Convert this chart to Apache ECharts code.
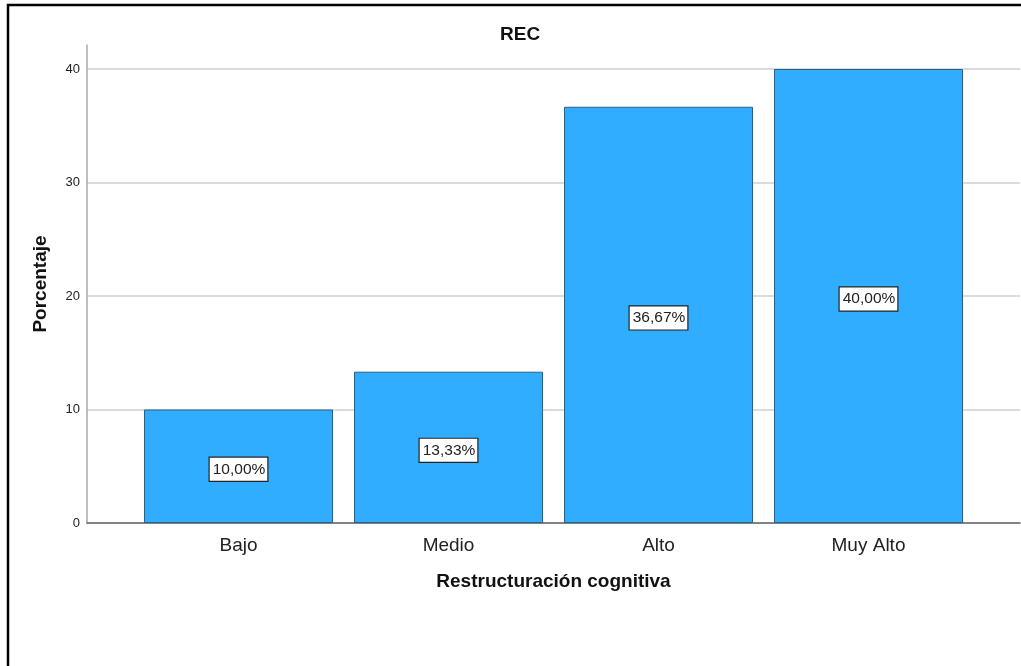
<!DOCTYPE html>
<html>
<head>
<meta charset="utf-8">
<script src="https://cdn.jsdelivr.net/npm/echarts@6/dist/echarts.min.js"></script>
<style>
  html, body { margin: 0; padding: 0; background: #fff; }
  #chart { width: 1021px; height: 666px; }
</style>
</head>
<body>
<div id="chart"></div>
<script>
const categories = ['Bajo', 'Medio', 'Alto', 'Muy Alto'];
const percents = [10.00, 13.33, 36.67, 40.00];
const yTicks = [0, 10, 20, 30, 40];

const barColor = '#31adff';
const font = 'Arial, "Liberation Sans", sans-serif';

const chart = echarts.init(document.getElementById('chart'));

chart.setOption({
    animation: false,
    title: {
        text: 'REC',
        left: 495,
        top: 20,
        textStyle: { fontSize: 19, fontWeight: 'bold', color: '#111', fontFamily: font }
    },
    graphic: [{
        type: 'rect',
        shape: { x: 8, y: 5, width: 1100, height: 1000 },
        style: { fill: 'none', stroke: '#000', lineWidth: 2.5 },
        silent: true
    }],
    grid: [
        // axis line that runs above the top tick
        { left: 87, right: 1, top: 45, bottom: 143 },
        // gridlines, tick labels, baseline
        { left: 87, right: 1, top: 69, bottom: 143 },
        // bars
        { left: 133.5, right: 47.5, top: 69, bottom: 143 }
    ],
    xAxis: [
        { gridIndex: 0, type: 'category', data: categories, show: false },
        {
            gridIndex: 1, type: 'category', data: categories,
            axisLine: { lineStyle: { color: '#666', width: 1.5 } },
            axisTick: { show: false },
            axisLabel: { show: false },
            name: 'Restructuración cognitiva',
            nameLocation: 'middle',
            nameGap: 49,
            nameTextStyle: { fontSize: 19, fontWeight: 'bold', color: '#111', fontFamily: font }
        },
        {
            gridIndex: 2, type: 'category', data: categories,
            axisLine: { show: false },
            axisTick: { show: false },
            axisLabel: { fontSize: 19, color: '#222', margin: 13, fontFamily: font }
        }
    ],
    yAxis: [
        {
            gridIndex: 0, type: 'value', min: 0, max: 42.1,
            axisLine: { show: true, lineStyle: { color: '#aaa', width: 1.5 } },
            axisTick: { show: false },
            axisLabel: { show: false },
            splitLine: { show: false },
            name: 'Porcentaje',
            nameLocation: 'middle',
            nameGap: 37,
            nameTextStyle: { fontSize: 19, fontWeight: 'bold', color: '#111', fontFamily: font }
        },
        {
            gridIndex: 1, type: 'value',
            min: yTicks[0], max: yTicks[yTicks.length - 1], interval: 10,
            axisLine: { show: false },
            axisTick: { show: false },
            axisLabel: { fontSize: 13, color: '#222', margin: 7, fontFamily: font },
            splitLine: { lineStyle: { color: '#cfcfcf', width: 1.5 } }
        },
        {
            gridIndex: 2, type: 'value',
            min: yTicks[0], max: yTicks[yTicks.length - 1],
            show: false
        }
    ],
    series: [{
        type: 'bar',
        xAxisIndex: 2,
        yAxisIndex: 2,
        data: percents,
        barWidth: 189,
        itemStyle: { color: barColor, borderColor: '#2a5f86', borderWidth: 1 },
        label: {
            show: true,
            position: 'inside',
            offset: [0, 3],
            formatter: p => p.value.toFixed(2).replace('.', ',') + '%',
            fontSize: 15.5,
            color: '#222',
            fontFamily: font,
            backgroundColor: '#fff',
            borderColor: '#222',
            borderWidth: 1.2,
            padding: [4, 2, 3, 3]
        }
    }]
});
</script>
</body>
</html>
